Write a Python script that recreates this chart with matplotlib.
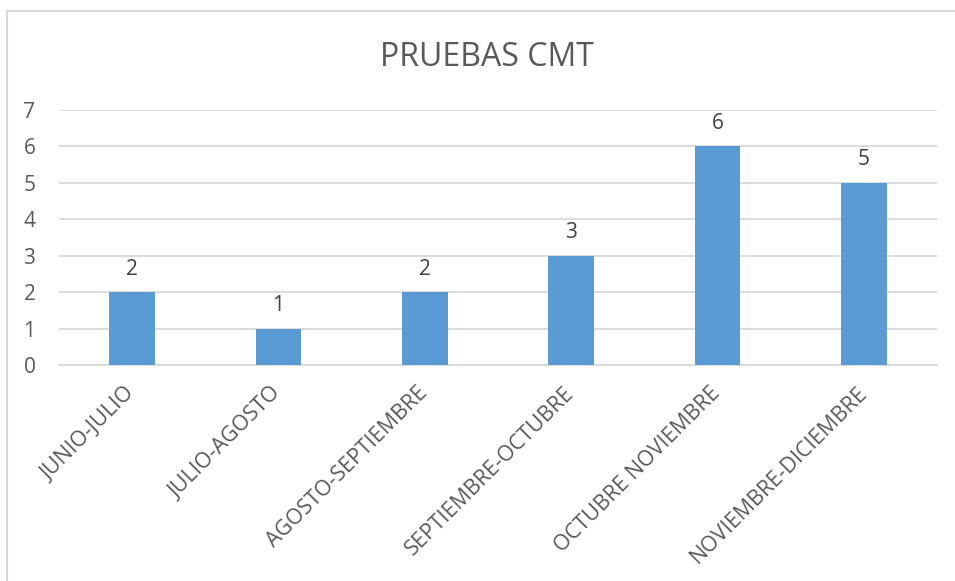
import matplotlib
matplotlib.use("Agg")
import matplotlib.pyplot as plt
from matplotlib.lines import Line2D

categories = ["JUNIO-JULIO", "JULIO-AGOSTO", "AGOSTO-SEPTIEMBRE",
              "SEPTIEMBRE-OCTUBRE", "OCTUBRE NOVIEMBRE", "NOVIEMBRE-DICIEMBRE"]
values = [2, 1, 2, 3, 6, 5]
yticks = [0, 1, 2, 3, 4, 5, 6, 7]

W, H = 955, 581
fig = plt.figure(figsize=(W / 100, H / 100), dpi=100)
fig.patch.set_facecolor("white")

# chart border (top and left visible)
fig.add_artist(Line2D([6.5 / W, 6.5 / W], [0, 1 - 11 / H], transform=fig.transFigure,
                      color="#D9D9D9", lw=1.5))
fig.add_artist(Line2D([6.5 / W, 1], [1 - 11 / H, 1 - 11 / H], transform=fig.transFigure,
                      color="#D9D9D9", lw=1.5))

left, right = 59 / W, 937 / W
bottom, top = 1 - 365 / H, 1 - 110 / H
ax = fig.add_axes([left, bottom, right - left, top - bottom])

x = list(range(len(categories)))
bars = ax.bar(x, values, width=0.31, color="#5B9BD5", zorder=3)
ax.set_xlim(-0.5, len(categories) - 0.5)
ax.set_ylim(0, 7)
ax.set_yticks(yticks)
ax.set_yticklabels([str(t) for t in yticks], fontsize=15, color="#595959", family="Open Sans")
ax.grid(axis="y", color="#D9D9D9", lw=1.3, zorder=0)
for s in ["top", "right", "left"]:
    ax.spines[s].set_visible(False)
ax.spines["bottom"].set_color("#D9D9D9")
ax.spines["bottom"].set_linewidth(1.3)
ax.tick_params(axis="x", length=0, pad=18)
ax.tick_params(axis="y", length=0, pad=17)
ax.set_xticks(x)
ax.set_xticklabels(categories, rotation=45, ha="right", rotation_mode="anchor",
                   fontsize=15.5, color="#595959", family="Open Sans")
for lbl in ax.get_xticklabels():
    lbl.set_va("center")

for xi, v in zip(x, values):
    ax.annotate(str(v), (xi, v), xytext=(0, 9), textcoords="offset points",
                ha="center", va="bottom", fontsize=15, color="#404040", family="Open Sans")

fig.text(487 / W, 1 - 57 / H, "PRUEBAS CMT", ha="center", va="center",
         fontsize=23, color="#595959", family="Open Sans")

fig.savefig("out.png", dpi=100)
